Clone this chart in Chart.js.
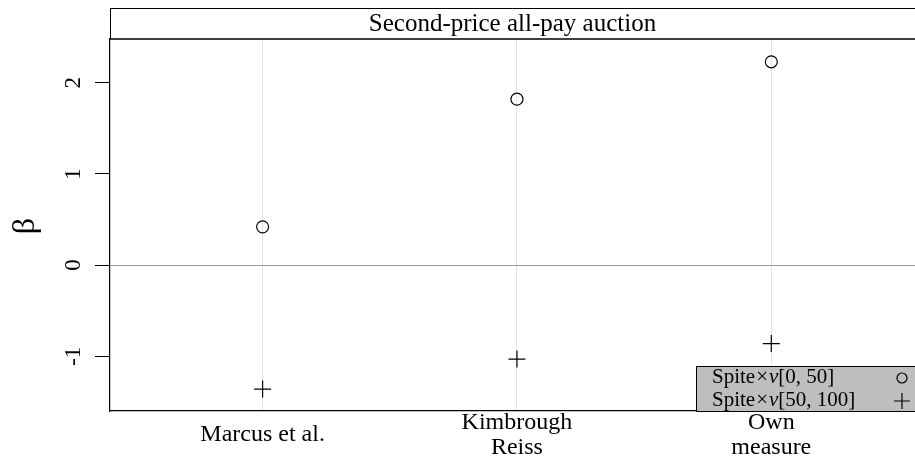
<!DOCTYPE html>
<html>
<head>
<meta charset="utf-8">
<script src="https://cdn.jsdelivr.net/npm/chart.js@4.4.0/dist/chart.umd.min.js"></script>
<style>
  html, body { margin: 0; padding: 0; background: #fff; }
</style>
</head>
<body>
<canvas id="chart" width="915" height="459"></canvas>
<script>
// data
const categories = [['Marcus et al.'], ['Kimbrough', 'Reiss'], ['Own', 'measure']];
const lowSpite = [0.42, 1.82, 2.23];      // Spite x v[0, 50]
const highSpite = [-1.36, -1.03, -0.86];  // Spite x v[50, 100]
const yTicks = [-1, 0, 1, 2];
const seriesRanges = ['[0, 50]', '[50, 100]'];
const panelTitle = 'Second-price all-pay auction';

const FONT = '"Liberation Serif", "DejaVu Serif", serif';

function toPoints(values) {
    return values.map((v, i) => ({ x: i + 1, y: v }));
}

// strip, rotated tick labels, category labels and the grey key
const decorations = {
    id: 'decorations',
    afterDraw(chart) {
        const ctx = chart.ctx;
        const area = chart.chartArea;
        const xs = chart.scales.x;
        const ys = chart.scales.y;
        ctx.save();
        ctx.fillStyle = '#000';
        ctx.strokeStyle = '#000';

        // strip on top
        ctx.lineWidth = 1;
        ctx.beginPath();
        ctx.moveTo(area.left, 8.5);
        ctx.lineTo(area.right, 8.5);
        ctx.moveTo(area.left + 0.5, 8);
        ctx.lineTo(area.left + 0.5, area.top);
        ctx.stroke();
        ctx.lineWidth = 1.5;
        ctx.beginPath();
        ctx.moveTo(area.left, area.top);
        ctx.lineTo(area.right, area.top);
        ctx.stroke();
        ctx.font = '25px ' + FONT;
        ctx.textAlign = 'center';
        ctx.textBaseline = 'middle';
        ctx.fillText(panelTitle, (area.left + 915) / 2, 24);

        // y tick labels, turned like the axis
        ctx.font = '23px ' + FONT;
        yTicks.forEach(v => {
            ctx.save();
            ctx.translate(74, ys.getPixelForValue(v));
            ctx.rotate(-Math.PI / 2);
            ctx.fillText(String(v), 0, 0);
            ctx.restore();
        });

        // axis title
        ctx.save();
        ctx.translate(26, 226);
        ctx.rotate(-Math.PI / 2);
        ctx.font = '32px ' + FONT;
        ctx.fillText('\u03B2', 0, 0);
        ctx.restore();

        // category labels
        ctx.font = '24px ' + FONT;
        categories.forEach((lines, i) => {
            const px = xs.getPixelForValue(i + 1);
            const y0 = 435 - (lines.length - 1) * 25 / 2;
            lines.forEach((t, j) => ctx.fillText(t, px, y0 + j * 25));
        });

        // key
        const kx = 696, ky = 366;
        ctx.fillStyle = '#bebebe';
        ctx.fillRect(kx, ky, 915 - kx, area.bottom - ky);
        ctx.lineWidth = 1;
        ctx.strokeRect(kx + 0.5, ky + 0.5, 915 - kx, area.bottom - ky);
        ctx.fillStyle = '#000';
        ctx.textAlign = 'left';
        seriesRanges.forEach((r, j) => {
            const ty = 377 + j * 23;
            let tx = 712;
            ctx.font = '21px ' + FONT;
            ctx.fillText('Spite', tx, ty);
            tx += ctx.measureText('Spite').width + 1;
            ctx.fillText('\u00D7', tx, ty);
            tx += ctx.measureText('\u00D7').width + 1;
            ctx.font = 'italic 21px ' + FONT;
            ctx.fillText('\u03BD', tx, ty);
            tx += ctx.measureText('\u03BD').width;
            ctx.font = '21px ' + FONT;
            ctx.fillText(r, tx, ty);
        });
        ctx.lineWidth = 1.2;
        ctx.beginPath();
        ctx.arc(902, 378, 5, 0, Math.PI * 2);
        ctx.stroke();
        ctx.beginPath();
        ctx.moveTo(894, 401);
        ctx.lineTo(910, 401);
        ctx.moveTo(902, 393);
        ctx.lineTo(902, 409);
        ctx.stroke();
        ctx.restore();
    }
};

new Chart(document.getElementById('chart'), {
    type: 'scatter',
    data: {
        datasets: [
            {
                label: 'Spite x v[0, 50]',
                data: toPoints(lowSpite),
                pointStyle: 'circle',
                pointRadius: 6,
                backgroundColor: 'rgba(0,0,0,0)',
                borderColor: '#000',
                borderWidth: 1.2
            },
            {
                label: 'Spite x v[50, 100]',
                data: toPoints(highSpite),
                pointStyle: 'cross',
                pointRadius: 8.5,
                borderColor: '#000',
                borderWidth: 1.2
            }
        ]
    },
    options: {
        responsive: false,
        animation: false,
        layout: { autoPadding: false, padding: { top: 39, right: 0, bottom: 0, left: 0 } },
        plugins: {
            legend: { display: false },
            tooltip: { enabled: false }
        },
        scales: {
            x: {
                type: 'linear',
                min: 0.4,
                max: 3.565,
                afterBuildTicks: s => { s.ticks = [1, 2, 3].map(v => ({ value: v })); },
                afterFit: s => { s.height = 48; },
                ticks: { display: false },
                grid: { color: '#e4e4e4', drawTicks: false },
                border: { color: '#000', width: 1.2 }
            },
            y: {
                min: -1.6,
                max: 2.48,
                afterBuildTicks: s => { s.ticks = yTicks.map(v => ({ value: v })); },
                afterFit: s => { s.width = 110; },
                ticks: { display: false },
                grid: {
                    color: c => (c.tick && c.tick.value === 0) ? '#9a9a9a' : 'rgba(0,0,0,0)',
                    tickColor: '#000',
                    tickLength: 15,
                    drawTicks: true
                },
                border: { color: '#000', width: 1.2 }
            }
        }
    },
    plugins: [decorations]
});
</script>
</body>
</html>
